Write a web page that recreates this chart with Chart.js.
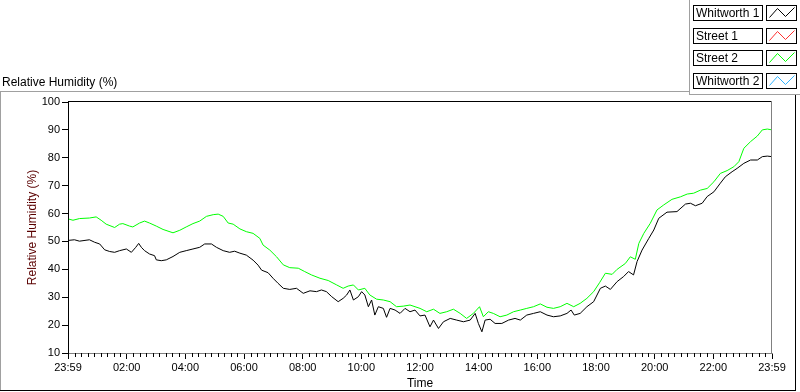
<!DOCTYPE html>
<html><head><meta charset="utf-8">
<script src="https://cdn.jsdelivr.net/npm/chart.js@4.4.0/dist/chart.umd.min.js"></script>
<style>html,body{margin:0;padding:0;background:#fff;overflow:hidden}canvas{display:block}</style>
</head><body>
<canvas id="c" width="800" height="392"></canvas>
<script>
const seriesNames = ['Whitworth 1', 'Street 1', 'Street 2', 'Whitworth 2'];
const seriesColors = ['#000000', '#ff3030', '#00ff00', '#30b4ff'];
const xTickLabels = ['23:59','02:00','04:00','06:00','08:00','10:00','12:00','14:00','16:00','18:00','20:00','22:00','23:59'];
const yTicks = [10,20,30,40,50,60,70,80,90,100];

// time in hours since 23:59
const whitworth1Hours = [
 0.03,0.22,0.39,0.73,0.91,1.08,1.25,1.42,1.59,1.76,
 1.99,2.16,2.31,2.41,2.50,2.61,2.78,2.95,3.01,3.18,
 3.35,3.58,3.81,4.03,4.26,4.49,4.66,4.89,5.06,5.29,
 5.51,5.68,5.86,6.08,6.31,6.48,6.60,6.82,6.99,7.16,
 7.34,7.56,7.79,8.02,8.25,8.47,8.64,8.81,8.99,9.21,
 9.38,9.50,9.61,9.73,9.90,10.01,10.12,10.24,10.35,10.46,
 10.58,10.75,10.86,10.98,11.15,11.32,11.49,11.66,11.83,12.00,
 12.17,12.34,12.46,12.63,12.80,13.03,13.25,13.48,13.71,13.88,
 13.99,14.11,14.22,14.39,14.56,14.79,15.02,15.24,15.42,15.64,
 15.87,16.10,16.33,16.55,16.78,17.01,17.15,17.26,17.46,17.69,
 17.92,18.15,18.32,18.49,18.72,18.94,19.11,19.28,19.40,19.57,
 19.80,19.97,20.14,20.42,20.76,21.05,21.22,21.39,21.62,21.79,
 22.02,22.24,22.41,22.64,22.81,23.04,23.27,23.50,23.67,23.84,
 24.00];
const whitworth1Values = [
 50.4,50.6,50.1,50.6,49.7,49.1,47.0,46.4,46.1,46.7,
 47.3,46.1,47.9,49.3,47.9,46.7,45.5,44.9,43.4,43.1,
 43.4,44.6,46.1,46.7,47.3,47.9,49.1,49.1,47.9,46.7,
 46.1,46.5,45.8,45.1,43.3,41.5,39.7,38.8,36.8,35.0,
 33.2,32.8,33.2,31.4,32.3,32.0,32.6,32.0,30.2,28.4,
 29.6,30.8,32.6,29.0,30.2,32.0,30.8,26.6,29.0,23.6,
 26.6,26.0,22.8,26.0,25.4,24.2,26.0,24.8,25.4,23.3,
 23.6,19.4,21.8,18.8,21.2,22.4,21.8,21.2,21.8,24.2,
 20.6,17.6,21.8,22.1,20.6,20.6,21.8,22.4,21.8,23.6,
 24.2,24.8,23.6,23.0,23.3,24.2,25.4,23.6,24.2,26.6,
 28.4,33.2,34.0,32.8,35.6,37.4,39.2,38.0,42.8,46.9,
 51.1,54.1,58.3,60.5,60.7,63.4,63.7,62.8,63.7,66.1,
 67.8,70.9,73.2,75.0,76.2,78.0,79.2,79.2,80.4,80.6,
 80.4];

const street1Hours = [];
const street1Values = [];

const street2Hours = [
 0.03,0.17,0.39,0.73,0.96,1.13,1.30,1.59,1.76,1.87,
 2.10,2.21,2.44,2.61,2.78,3.01,3.24,3.58,3.81,4.03,
 4.26,4.49,4.72,4.95,5.12,5.29,5.46,5.63,5.86,6.08,
 6.31,6.54,6.65,6.88,7.11,7.34,7.56,7.85,8.07,8.30,
 8.59,8.87,9.16,9.38,9.55,9.73,9.90,10.12,10.29,10.52,
 10.75,10.98,11.20,11.43,11.66,12.00,12.23,12.46,12.68,12.91,
 13.14,13.37,13.59,13.82,14.03,14.16,14.33,14.50,14.73,14.96,
 15.19,15.42,15.64,15.87,16.10,16.33,16.55,16.78,17.01,17.24,
 17.46,17.69,17.92,18.12,18.32,18.55,18.72,19.00,19.17,19.34,
 19.46,19.63,19.85,20.08,20.31,20.59,20.88,21.11,21.33,21.56,
 21.79,22.02,22.24,22.47,22.70,22.87,23.04,23.27,23.50,23.67,
 23.84,24.00];
const street2Values = [
 58.0,57.6,58.2,58.4,58.8,57.6,56.2,55.0,56.2,56.4,
 55.5,55.2,56.6,57.3,56.6,55.5,54.3,53.1,54.0,55.2,
 56.4,57.3,59.0,59.6,59.8,59.0,56.6,56.2,54.5,53.5,
 52.9,51.1,48.7,46.9,44.5,41.6,40.6,40.4,39.2,38.0,
 36.8,36.0,34.4,33.2,34.0,34.4,32.6,33.2,30.8,29.3,
 29.0,28.4,26.6,26.8,27.2,26.0,24.8,25.7,24.2,24.8,
 25.7,24.2,22.4,24.2,26.6,23.0,24.8,24.2,23.0,23.6,
 24.8,25.4,26.0,26.6,27.6,26.4,26.0,26.6,27.8,26.6,
 27.8,29.6,32.0,35.2,38.6,38.2,40.0,42.1,44.5,43.6,
 49.3,52.9,56.5,61.3,63.1,65.1,66.0,67.0,67.3,68.4,
 69.0,71.4,74.4,75.4,76.8,78.6,83.4,85.8,87.8,90.0,
 90.3,90.0];

const whitworth2Hours = [];
const whitworth2Values = [];

const FONT = '"Liberation Sans", Arial, sans-serif';

function pts(xs, ys) { return xs.map((x, i) => ({x: x, y: ys[i]})); }

const seriesData = [
  pts(whitworth1Hours, whitworth1Values),
  pts(street1Hours, street1Values),
  pts(street2Hours, street2Values),
  pts(whitworth2Hours, whitworth2Values)
];

const framePlugin = {
  id: 'frame',
  afterDraw(chart) {
    const ctx = chart.ctx;
    const ca = chart.chartArea;
    ctx.save();
    ctx.lineWidth = 1;
    // outer frame
    ctx.strokeStyle = '#a0a0a0';
    ctx.beginPath();
    ctx.moveTo(0, 91.5); ctx.lineTo(690, 91.5);
    ctx.moveTo(0.5, 91.5); ctx.lineTo(0.5, 390);
    ctx.moveTo(689.5, 0); ctx.lineTo(689.5, 95);
    ctx.moveTo(689.5, 94.5); ctx.lineTo(800, 94.5);
    ctx.stroke();
    ctx.strokeStyle = '#000';
    ctx.beginPath();
    ctx.moveTo(0, 390.5); ctx.lineTo(796, 390.5);
    ctx.moveTo(795.5, 95); ctx.lineTo(795.5, 391);
    ctx.stroke();
    // plot area top & right
    ctx.strokeStyle = '#000';
    ctx.beginPath();
    ctx.moveTo(ca.left, Math.round(ca.top) - 0.5); ctx.lineTo(ca.right, Math.round(ca.top) - 0.5);
    ctx.stroke();
    ctx.strokeStyle = '#808080';
    ctx.beginPath();
    ctx.moveTo(Math.round(ca.right) - 0.5, ca.top - 1); ctx.lineTo(Math.round(ca.right) - 0.5, ca.bottom + 1);
    ctx.stroke();
    // minor ticks on x
    const xs = chart.scales.x;
    ctx.strokeStyle = '#000';
    ctx.beginPath();
    for (let i = 0; i < xTickLabels.length - 1; i++) {
      for (let k = 1; k < 9; k++) {
        const v = i * 2 + k * 2 / 9;
        const px = Math.round(xs.getPixelForValue(v)) + 0.5;
        ctx.moveTo(px, ca.bottom); ctx.lineTo(px, ca.bottom + 4);
      }
    }
    ctx.stroke();
    // chart title
    ctx.fillStyle = '#000';
    ctx.font = '12px ' + FONT;
    ctx.textAlign = 'left';
    ctx.textBaseline = 'alphabetic';
    ctx.fillText('Relative Humidity (%)', 2, 86);
    // legend
    chart.data.datasets.forEach((ds, i) => {
      const y0 = Math.round(5 + i * 22.6) + 0.5;
      ctx.strokeStyle = '#000';
      ctx.fillStyle = '#fff';
      ctx.fillRect(693.5, y0, 69, 15);
      ctx.strokeRect(693.5, y0, 69, 15);
      ctx.fillRect(766.5, y0, 30, 15);
      ctx.strokeRect(766.5, y0, 30, 15);
      ctx.fillStyle = '#000';
      ctx.textBaseline = 'middle';
      ctx.fillText(ds.label, 696, y0 + 8);
      ctx.strokeStyle = ds.borderColor;
      ctx.beginPath();
      ctx.moveTo(769.5, y0 + 12);
      ctx.lineTo(777.5, y0 + 3);
      ctx.lineTo(785.5, y0 + 11);
      ctx.lineTo(794.5, y0 + 2);
      ctx.stroke();
    });
    ctx.restore();
  }
};

new Chart(document.getElementById('c'), {
  type: 'line',
  data: {
    datasets: seriesNames.map((name, i) => ({
      label: name,
      data: seriesData[i],
      borderColor: seriesColors[i],
      backgroundColor: seriesColors[i],
      borderWidth: 1,
      pointRadius: 0,
      tension: 0,
      fill: false
    }))
  },
  options: {
    responsive: false,
    animation: false,
    devicePixelRatio: 1,
    parsing: true,
    layout: { padding: { top: 102, right: 28, left: 0, bottom: 0 } },
    plugins: { legend: { display: false }, tooltip: { enabled: false }, title: { display: false } },
    scales: {
      x: {
        type: 'linear',
        min: 0, max: 24,
        afterFit(s) { s.height = 39; },
        ticks: {
          stepSize: 2, autoSkip: false, maxRotation: 0, padding: 2,
          color: '#000', font: { family: FONT, size: 11 },
          callback: (v) => xTickLabels[Math.round(v / 2)]
        },
        grid: { drawOnChartArea: false, drawTicks: true, tickLength: 6, color: '#000' },
        border: { display: true, color: '#808080' },
        title: { display: true, text: 'Time', color: '#000', font: { family: FONT, size: 12 }, padding: { top: 0, bottom: 1 } }
      },
      y: {
        type: 'linear',
        min: 10, max: 100,
        afterFit(s) { s.width = 68; },
        afterBuildTicks(s) { s.ticks = yTicks.map(v => ({ value: v })); },
        ticks: { padding: 2, color: '#000', font: { family: FONT, size: 11 } },
        grid: { drawOnChartArea: false, drawTicks: true, tickLength: 6, color: '#000' },
        border: { display: true, color: '#000' },
        title: { display: true, text: 'Relative Humidity (%)', color: '#5a0000', font: { family: FONT, size: 12 }, padding: { top: 25, bottom: 0 } }
      }
    }
  },
  plugins: [framePlugin]
});
</script>
</body></html>
